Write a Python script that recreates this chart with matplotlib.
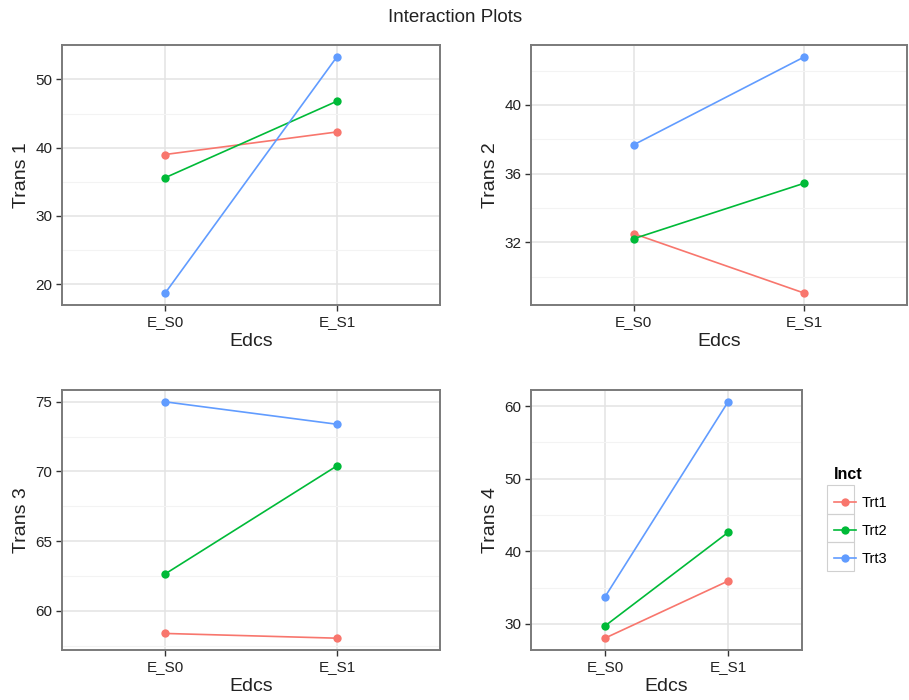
import numpy as np
import matplotlib.pyplot as plt
from matplotlib.ticker import MultipleLocator
from matplotlib.patches import Rectangle

plt.rcParams['font.family'] = ['Liberation Sans', 'DejaVu Sans']

edcs = ['E_S0', 'E_S1']
groups = ['Trt1', 'Trt2', 'Trt3']
colors = ['#F8766D', '#00BA38', '#619CFF']

trans1 = {'Trt1': [39.0, 42.3], 'Trt2': [35.6, 46.8], 'Trt3': [18.7, 53.3]}
trans2 = {'Trt1': [32.5, 29.03], 'Trt2': [32.2, 35.44], 'Trt3': [37.67, 42.8]}
trans3 = {'Trt1': [58.37, 58.03], 'Trt2': [62.64, 70.4], 'Trt3': [75.0, 73.39]}
trans4 = {'Trt1': [28.02, 35.9], 'Trt2': [29.7, 42.6], 'Trt3': [33.7, 60.6]}

panels = [
    ('Trans 1', trans1, 10, [62, 45, 378, 260]),
    ('Trans 2', trans2, 4, [531, 45, 376, 260]),
    ('Trans 3', trans3, 5, [62, 390, 378, 260]),
    ('Trans 4', trans4, 10, [531, 390, 271, 260]),
]

W, H = 909, 700
fig = plt.figure(figsize=(W / 100, H / 100), dpi=100)
fig.patch.set_facecolor('white')

axes = []
for ylab, data, step, (l, t, w, h) in panels:
    ax = fig.add_axes([l / W, (H - t - h) / H, w / W, h / H])
    x = np.arange(1, len(edcs) + 1)
    allv = []
    for g, c in zip(groups, colors):
        ax.plot(x, data[g], '-', color=c, lw=1.2, marker='o', ms=6,
                markeredgewidth=0, label=g, zorder=3)
        allv += data[g]
    lo, hi = min(allv), max(allv)
    pad = (hi - lo) * 0.05
    ax.set_ylim(lo - pad, hi + pad)
    ax.set_xlim(0.4, 2.6)
    ax.set_xticks(x)
    ax.set_xticklabels(edcs)
    ax.yaxis.set_major_locator(MultipleLocator(step))
    ax.yaxis.set_minor_locator(MultipleLocator(step / 2))
    ax.grid(which='major', color='#E3E3E3', lw=1.1, zorder=0)
    ax.grid(which='minor', axis='y', color='#F3F3F3', lw=0.8, zorder=0)
    ax.tick_params(which='minor', length=0)
    ax.tick_params(which='major', length=4, width=1, color='#333333',
                   labelsize=11, labelcolor='#222222', pad=3)
    for s in ax.spines.values():
        s.set_color('#7A7A7A')
        s.set_linewidth(1.4)
    ax.set_xlabel('Edcs', fontsize=14, labelpad=3, color='#222222')
    ax.set_ylabel(ylab, fontsize=14, labelpad=4, color='#222222')
    ax.set_axisbelow(True)
    axes.append(ax)

fig.text(455 / W, 1 - 17 / H, 'Interaction Plots', ha='center', va='center',
         fontsize=13.5, color='#222222')

# legend
ax4 = axes[3]
handles, labels = ax4.get_legend_handles_labels()
leg = fig.legend(handles, labels, title='Inct', loc='upper left',
                 bbox_to_anchor=(824 / W, 1 - 457 / H), frameon=False,
                 fontsize=10.5, title_fontsize=11.5, handlelength=1.5,
                 handletextpad=0.35, labelspacing=0.95, borderpad=0.2)
leg.get_title().set_fontweight('bold')
leg._legend_box.align = 'left'
for i in range(3):
    y0 = 485 + i * 28.5
    fig.patches.append(Rectangle((827 / W, 1 - (y0 + 28.5) / H), 27 / W, 28.5 / H,
                                 transform=fig.transFigure, fill=False,
                                 edgecolor='#D0D0D0', lw=0.8))

fig.savefig('out.png', dpi=100)
